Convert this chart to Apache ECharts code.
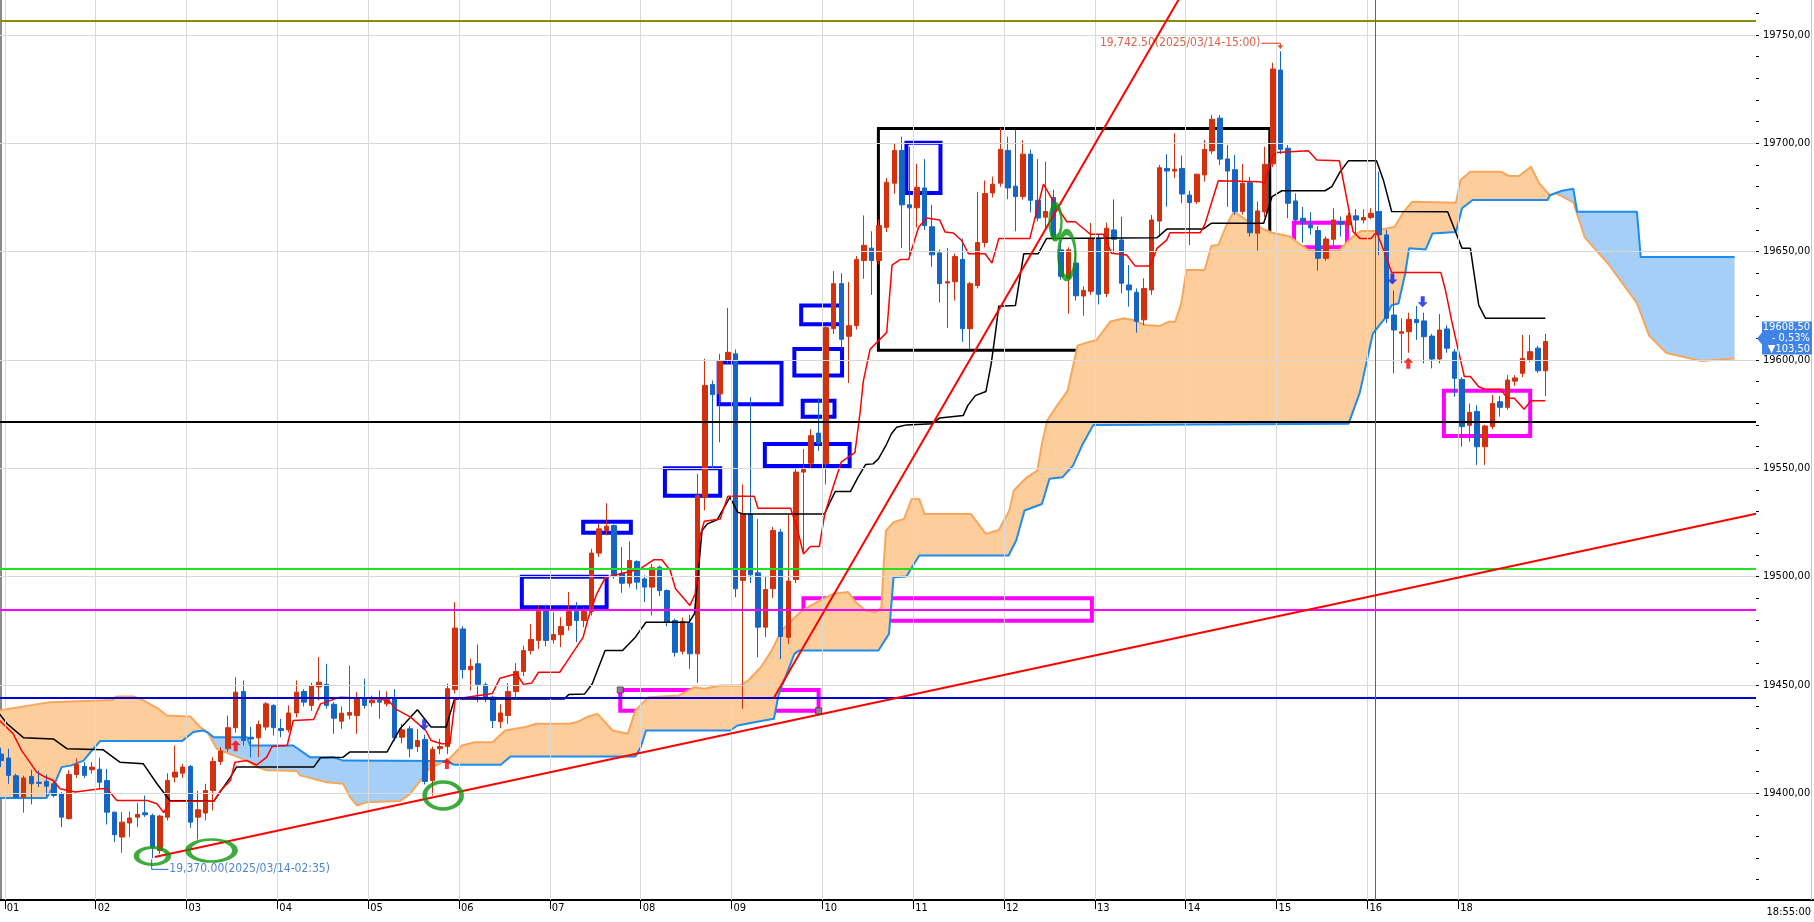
<!DOCTYPE html>
<html><head><meta charset="utf-8">
<script src="https://cdn.jsdelivr.net/npm/echarts@6/dist/echarts.min.js"></script>
<style>html,body{margin:0;padding:0;background:#fff;overflow:hidden}#c{width:1814px;height:922px}</style>
</head><body><div id="c"></div>
<script>
// ---------- DATA ----------
// 5-minute bars, index 0 = 00:55 ... 192 = 16:55, 193 = 18:00 ... 204 = 18:55
const hourLabels = ['01','02','03','04','05','06','07','08','09','10','11','12','13','14','15','16','18'];
const hourStartBars = [1,13,25,37,49,61,73,85,97,109,121,133,145,157,169,181,193];
const priceLabels = [19400,19450,19500,19550,19600,19650,19700,19750];
const priceMinorTicks = [19360,19370,19380,19390,19400,19410,19420,19430,19440,19450,19460,19470,19480,19490,19500,19510,19520,19530,19540,19550,19560,19570,19580,19590,19600,19610,19620,19630,19640,19650,19660,19670,19680,19690,19700,19710,19720,19730,19740,19750,19760];
// [open, high, low, close]
const ohlc = [
[19418,19421,19412,19415],[19416.2,19420.5,19404.3,19408.2],[19408,19409,19397.5,19398],[19398,19408,19391,19407],
[19407.7,19410.8,19394.8,19404.3],[19405,19410.5,19402.8,19404.5],[19405.4,19408.6,19398.2,19403.2],[19404.3,19406,19398,19398.9],
[19399.7,19400.5,19384.3,19388.9],[19388.2,19410.5,19387.8,19408.6],[19408.6,19416,19407,19413.2],[19412.3,19414.3,19407,19408.2],
[19410.8,19414.3,19409,19412],[19411,19416.3,19402,19405],[19405.8,19411.2,19385.5,19391.2],[19391.2,19391.5,19377.4,19380.8],
[19379.7,19391.2,19372.5,19386.6],[19386.2,19391.5,19379.7,19388.5],[19388.9,19395.4,19384.3,19390.2],[19390.9,19398.9,19389,19390],
[19389.7,19390.5,19370,19375],[19373.5,19390,19372,19389.4],[19388.9,19409.2,19387.4,19405.8],[19407.4,19422,19405,19409.7],
[19409.2,19413.5,19407,19412],[19412.3,19413,19384,19386.6],[19388.9,19401,19378.6,19392.3],[19390.8,19404.3,19387.4,19401.2],
[19401.2,19416.6,19392,19414.6],[19414.6,19421.2,19413,19419.4],[19420.5,19435.8,19419,19430.2],[19430.2,19453.5,19428,19446.6],
[19446.9,19452,19422,19424.3],[19425.8,19430.5,19416.6,19425],[19425.5,19433.5,19416.6,19431.7],[19430.5,19442,19429,19441.2],
[19440.5,19441,19426.6,19430.2],[19429.8,19434.3,19425.8,19428.9],[19429.2,19440.5,19428,19437],[19437,19452,19435,19446.6],
[19446.9,19448,19440,19442],[19440.5,19451,19438,19449.5],[19449,19462.8,19442.8,19451.2],[19450.2,19459.7,19439,19440.5],
[19441,19442,19427.4,19434.6],[19433.2,19440,19429.7,19436.9],[19436,19458.9,19434,19437.2],[19435.8,19446.6,19427.4,19444],
[19444,19452.8,19439,19440.5],[19441.7,19445,19440,19442.8],[19442.8,19447.4,19434.3,19442],[19441.2,19447,19440,19443.2],
[19443.5,19448,19424,19425.5],[19425.8,19432,19423,19429.2],[19429.7,19431,19416.6,19420.5],[19421.5,19429.7,19419,19424.3],
[19424.8,19427,19404,19405.4],[19405.8,19421.5,19398.9,19420.2],[19420.5,19425,19418,19421.5],[19421.5,19450.5,19418,19448.2],
[19447.8,19488.2,19446,19476.2],[19475.8,19477,19452.8,19457],[19456.9,19462,19447.4,19458.5],[19459.7,19468.6,19442,19450.2],
[19450,19451,19442,19444.3],[19444.3,19445,19430,19433.5],[19433,19441,19430,19437],[19435.8,19450.8,19432,19446.9],
[19446.9,19460,19444,19456.2],[19456.2,19468,19454,19465.8],[19465.8,19478,19464,19470.9],[19470.5,19486.6,19466.6,19484],
[19484.3,19487,19467.7,19470.5],[19470.8,19483.5,19469,19473.2],[19473.1,19481.2,19467.4,19476.9],[19477.4,19492.8,19475,19483.8],
[19483.8,19488.2,19469.7,19479.7],[19479.7,19485.8,19476.6,19483.8],[19483.8,19512.8,19482,19510.8],[19510.8,19524.6,19509,19522],
[19521.2,19533.8,19519,19523.2],[19523.5,19524,19499,19500.2],[19501.5,19513.5,19492.5,19496.9],[19496.9,19516.3,19495,19507.4],
[19506.9,19507.5,19494,19497.4],[19498.9,19500.5,19488.2,19495.1],[19495.1,19505.8,19482,19504],[19504.3,19505,19491,19493.5],
[19493.5,19494,19477,19478.9],[19479.7,19480.5,19463,19465],[19465.5,19481,19464,19479.2],[19478.5,19482.3,19457.4,19464.3],
[19464.3,19547.4,19450.8,19537.4],[19536.6,19600.5,19530.5,19588.2],[19588.6,19590.5,19550,19584],[19584.3,19602.8,19562,19599.7],
[19599.7,19624,19598,19603.5],[19602.8,19604.8,19490.5,19494.3],[19498.2,19542.5,19438.9,19529],[19529,19582.8,19497,19500.8],
[19501.7,19526.6,19462.8,19476.6],[19476.6,19500,19472,19494],[19494.4,19522.9,19490,19521.2],[19520.5,19522,19461.9,19472.3],
[19471.9,19528.6,19468.8,19497.9],[19498.6,19550,19497,19548.2],[19548.2,19558.9,19510.4,19549.4],[19552.3,19568,19550,19565],
[19566.2,19582.3,19558,19561.5],[19552,19616,19542.5,19614.9],[19614.4,19641,19612,19635.2],[19635.2,19640,19605,19609.5],
[19610.9,19636,19589.3,19615.8],[19615.8,19648,19614,19646.4],[19645.9,19666.7,19637.4,19652.9],[19651.6,19659.4,19630,19645.9],
[19645.9,19665,19644,19662],[19661.2,19684,19659,19682],[19681.6,19700,19676.8,19696.7],[19696.7,19703.1,19651.6,19671.6],
[19671.6,19698.4,19648.2,19670.2],[19670.2,19690.6,19661.2,19679.7],[19679.4,19692.7,19660,19662],[19661.5,19671.6,19643,19648.5],
[19649.4,19651,19626.5,19635.2],[19635.5,19651.6,19614.7,19636.1],[19636.1,19649,19627.4,19647.7],[19646.4,19656,19608.3,19614.4],
[19614.4,19636,19604.9,19635.2],[19634.3,19677.6,19633,19654.2],[19654.2,19682.8,19652,19676.8],[19677.1,19684.6,19675,19681.1],
[19681.6,19707.1,19680,19697.2],[19696.7,19703.1,19674.2,19679.4],[19680.2,19706.2,19659.4,19675.4],[19675.4,19701.4,19674,19695],
[19695,19697,19668.1,19673.7],[19673.7,19692.7,19664,19665.5],[19665.9,19691.5,19660.3,19668.5],[19675,19678.5,19655,19656.8],
[19650.8,19655.1,19637,19638.6],[19637.8,19652,19621.3,19650.8],[19644.7,19649.9,19627.4,19629.6],[19629.5,19634,19620.4,19632.1],
[19631.7,19663.3,19630,19656],[19656,19658,19625.6,19630.3],[19630.7,19663.4,19629,19660.8],[19660,19674.1,19649.2,19655.7],
[19655.4,19666.1,19630.7,19635.4],[19634.6,19643.8,19624.6,19632.3],[19631.2,19633,19612.6,19617.8],[19618.5,19637.7,19616,19633],
[19632.3,19666.9,19630,19664.6],[19664.1,19690,19656.9,19688.7],[19688.4,19695,19670.7,19687.2],[19687.2,19704.6,19684,19688],
[19688.4,19694.4,19672.3,19676.6],[19676.1,19678,19653,19672.6],[19673,19686,19672,19685.7],[19685.4,19701.5,19682.3,19697.2],
[19696.5,19713.1,19695,19711.1],[19711.6,19713,19690,19692.7],[19692.8,19699.2,19670.7,19687.2],[19687.8,19694.6,19667,19668.5],
[19668.5,19690.5,19667,19681.5],[19681.8,19684.5,19657,19658.7],[19658.5,19673.1,19650.4,19668.8],[19668.3,19698.4,19666,19690.3],
[19690.5,19737.2,19689,19734.3],[19733.8,19742.5,19695,19697.2],[19697.7,19699.2,19665.4,19672.3],[19673.4,19676.9,19662,19664.6],
[19665.4,19670.7,19654.1,19663.8],[19662.3,19668.2,19657.8,19661],[19659.7,19661.7,19641.2,19646.9],[19646.9,19657,19645.8,19655.8],
[19655.7,19670,19652.3,19664.6],[19663.8,19666.2,19657,19662.7],[19662.3,19668,19660,19666.5],[19666.5,19669.6,19658.5,19664.6],
[19664.6,19669.6,19663,19665.8],[19665.8,19670,19665,19667.7],[19668.5,19686.9,19648.4,19657.7],[19657.7,19660,19617,19619.2],
[19620.7,19632,19593.8,19613.8],[19612.3,19619.2,19598.4,19613],[19613,19621.8,19603.3,19618.7],[19618.7,19624.9,19609.2,19617.2],
[19618,19621.8,19598.4,19610.7],[19611,19612,19596.1,19600.4],[19600.4,19621.2,19598.4,19613.8],[19614.3,19616,19603.3,19605.4],
[19603.7,19605,19583,19591.5],[19591,19592,19560,19569.2],[19569.8,19579.9,19562.2,19575.8],[19576.2,19579.1,19551.5,19559.9],
[19559.9,19570,19551.5,19569.5],[19569.2,19583.8,19568,19579.9],[19580.7,19583.3,19573.8,19578.1],[19578.1,19593,19577,19590.7],
[19590.2,19593,19588,19591.7],[19593.8,19611.5,19592,19600.7],[19600.2,19611.5,19599,19603.8],[19605.4,19606.5,19594,19595],
[19595,19612,19583.3,19608.5]
];
// Ichimoku lines: [bar index, price] vertices
const tenkan = [[-0.2,19433.5],[1.6,19427.4],[2.7,19419.7],[3.8,19414.3],[4.7,19409.7],[5.6,19407.8],[6.9,19405.8],[7.8,19402],[9.8,19400.5],[13.1,19402],[14,19402],[15.3,19396.6],[19.3,19396.6],[20.6,19395.1],[21.5,19391],[22.3,19396.2],[28.1,19396.2],[29,19401.2],[30.3,19405.8],[30.9,19414.3],[32.5,19415],[33.8,19413],[35.1,19416.6],[35.8,19421.5],[37.8,19422],[38.6,19433.5],[41.3,19434],[42.2,19441.2],[44.8,19444.3],[50.1,19443.5],[51.4,19442],[52.1,19438.9],[54.1,19435.1],[56.1,19428.9],[56.8,19424.3],[58.2,19422.8],[59.3,19422.8],[60,19443.5],[64.9,19446],[65.9,19453],[68.1,19455.1],[69,19450.2],[70.1,19450.8],[71,19455.8],[73.8,19455.8],[74.7,19460.5],[76.9,19472],[77.6,19481.2],[78.7,19492],[79.8,19499.4],[80.9,19500.5],[84.4,19503.5],[86.2,19507.7],[87.3,19507.7],[88.4,19502.8],[89.1,19494.3],[90.6,19488.2],[91,19486.6],[91.7,19492],[92.3,19518.2],[92.9,19525.5],[95,19526.5],[96,19537],[99.5,19537],[100,19531.5],[104.3,19531.5],[105.2,19521.9],[106,19510.4],[106.9,19513.9],[108.1,19513.9],[108.8,19528.6],[109.7,19539],[111,19552.9],[112.8,19557.2],[113.5,19576.3],[113.9,19590.1],[114.8,19604.9],[117,19612.7],[117.7,19643.8],[118.8,19646.4],[119.9,19646.4],[121.2,19661.2],[122.3,19665.5],[124,19664.6],[124.7,19659.1],[125.8,19658.6],[126.9,19655.1],[127.8,19649],[130,19649],[130.9,19644.7],[131.8,19656],[135.9,19656],[137.7,19681.1],[139,19673.3],[140.8,19663.8],[141.9,19663.8],[143.9,19658],[145.6,19658],[146.7,19649.2],[148.7,19648.4],[149.8,19643.4],[151.8,19643.4],[152.7,19651.5],[154,19655.4],[154.4,19658.7],[158.4,19658.7],[159,19662.3],[160.8,19682.7],[166.3,19682.3],[166.9,19681.5],[167.9,19693.8],[168.5,19695.7],[172.7,19696.6],[173.8,19692.3],[176.8,19692],[178.6,19659.2],[179.5,19656.1],[181,19656.1],[181.7,19659.2],[182.8,19649.2],[183.7,19640.3],[190.2,19640.3],[190.8,19632.3],[191.7,19616.9],[192.6,19603],[193.3,19592.3],[194.1,19592.3],[195.2,19587.6],[196.1,19586.4],[198.1,19586.4],[199,19582.3],[199.9,19582.3],[201.2,19577.2],[202.1,19581.2],[204,19581.2]];
const kijun = [[-0.2,19436.6],[0.8,19432],[3,19425.5],[6.9,19425],[8.7,19420.5],[13.5,19420],[15.7,19414.3],[18.8,19413.5],[20.6,19404.3],[22.3,19396.6],[28.1,19396.2],[30.3,19407.4],[31.1,19412],[41.3,19412],[42.2,19416.3],[45.2,19416.6],[46.1,19419],[51,19419],[52.7,19429.7],[55,19438.5],[56.8,19430.5],[58.8,19430.5],[59.9,19443.5],[74.4,19443.5],[75,19445.5],[77.1,19445.8],[78.1,19450.5],[79.8,19465.8],[82.1,19465.8],[83.8,19472],[85.2,19478.9],[90.9,19478.9],[91.6,19482.8],[92.6,19521.2],[93.3,19524.3],[94.6,19526.2],[95.3,19530.5],[96.3,19536.6],[97.3,19529.7],[98,19528.9],[108.8,19528.9],[109.5,19534.3],[110.2,19539.2],[112.2,19539.2],[113.2,19545.8],[114.2,19551.7],[115.2,19552],[115.9,19554.3],[116.9,19560.5],[117.6,19565.8],[118.3,19568.9],[119.6,19570],[123,19570.5],[124,19573.2],[127.1,19574.3],[127.7,19578.9],[128.7,19583.5],[130.1,19585.4],[130.8,19598.2],[131.4,19613.5],[131.8,19624.8],[134,19625.1],[135.1,19649],[137,19649],[138.1,19656],[152.7,19656.4],[154,19660.4],[158.8,19660.4],[159.9,19663.1],[166.8,19663.1],[167.9,19675.4],[169.2,19678.1],[174.9,19678.1],[175.8,19680],[176.9,19686.9],[178,19692],[181.7,19692],[182.6,19683.1],[183.7,19668.5],[191.1,19668.4],[193,19651.5],[194.1,19651.5],[195.2,19625.3],[196.1,19619.2],[204,19619.2]];
const spanA = [[-0.2,19397.7],[6,19397.7],[6.9,19402.8],[8,19412],[9.3,19412.8],[10.9,19415],[12.2,19420.5],[13.1,19424],[23.9,19424],[25.4,19428.2],[26.7,19428.9],[27.3,19428],[28.1,19425.8],[32.5,19425.8],[32.9,19422],[38.6,19422],[40.8,19416.6],[43.9,19416.6],[45.2,19415],[58.6,19414.8],[59.9,19413.1],[66,19413.1],[67.3,19416.9],[83.8,19416.9],[84.5,19421.2],[85.2,19428.9],[96.3,19428.9],[97.3,19431.2],[99.7,19432.8],[102.1,19434.3],[102.7,19445.1],[104.8,19464.3],[105.4,19465.8],[115.9,19465.8],[117.3,19473.5],[117.9,19499.7],[119.6,19500],[120.6,19505.8],[121.3,19509.7],[133.1,19509.7],[134.1,19516.6],[135.2,19530.5],[137.5,19533.5],[138.5,19545.1],[140.2,19545.8],[141.6,19551.2],[142.9,19561.2],[144.3,19570],[178,19570.5],[179.5,19585],[180.3,19597.6],[181.2,19612],[182.8,19619.2],[183.7,19625.3],[184.6,19626],[185.5,19640],[186,19651.5],[188.2,19651],[189.1,19658.4],[192.2,19659],[193,19670],[194.4,19673.8],[204.3,19673.8],[204.6,19676],[206.2,19678.1],[207.7,19679],[208.2,19668.4],[216.1,19668.4],[216.6,19647.5],[229,19647.5]];
const spanB = [[-0.2,19438.2],[6.5,19442],[14.8,19443],[15.2,19444.6],[17.5,19444.6],[18.8,19442.8],[20.6,19439.4],[21.9,19435.8],[25,19435.4],[26.3,19430.5],[27.3,19428],[28.5,19420.5],[30.7,19417.4],[32.5,19415],[33.8,19412],[35.1,19410.5],[39.1,19410.2],[39.5,19408.2],[43,19405],[45.2,19404.3],[46.1,19398.2],[47,19394.3],[48.3,19395.8],[52.7,19396.3],[54,19399.5],[55.4,19405.8],[56.5,19411],[57.8,19413.5],[58.6,19414.8],[59.2,19415.8],[60.9,19422],[62.6,19423.5],[64.9,19423.5],[66.6,19428.9],[69.3,19430.5],[70.7,19432],[75.1,19432],[76.1,19432.8],[77.4,19435.1],[78.8,19436.6],[80.8,19428.9],[82.8,19427.4],[83.8,19438.2],[85.5,19444.3],[89.6,19445.1],[91.6,19448.9],[92.9,19448.2],[95,19449.7],[97.7,19449.7],[98.7,19452],[100.4,19458.2],[101.8,19465.8],[103.1,19475.1],[105.8,19484.3],[107.8,19488.2],[109.9,19492],[111.9,19492.8],[112.9,19488.2],[114.2,19484.3],[115.6,19483.5],[116.3,19485.8],[116.6,19505.8],[116.9,19521.2],[117.9,19525.1],[119.3,19526.6],[120.3,19535.8],[121.3,19535.8],[122,19528.9],[128.1,19528.9],[130.1,19519.7],[131.8,19521.5],[133.2,19530.5],[133.8,19539.7],[135.5,19545.8],[136.9,19548.9],[137.5,19561.2],[138.2,19572],[139.5,19578.9],[140.9,19585.8],[142.2,19606.6],[143.6,19608.2],[144.7,19609.2],[146.5,19617.6],[148.3,19619.2],[149.6,19618.4],[151.1,19616.1],[153.1,19615.7],[154.2,19617.6],[155.1,19617.6],[155.9,19626.1],[156.6,19641.5],[159,19641.5],[159.9,19652.7],[160.8,19653],[161.9,19662.3],[162.8,19668.1],[163.2,19667.7],[164.5,19664.6],[166.8,19660.3],[167.9,19658.7],[169.4,19657.7],[170.3,19656.9],[171.4,19653.8],[172.9,19650.4],[176.7,19650.4],[178.2,19655.7],[179.1,19658.4],[179.7,19659.5],[181.3,19659.5],[183,19660.7],[184.1,19661.5],[185.3,19668.4],[186.4,19673],[192.2,19672.6],[192.8,19683.1],[194.1,19686.9],[198.1,19686.9],[199.2,19684.9],[200.5,19684.9],[202.1,19689.2],[203.2,19681.5],[204.6,19676],[205.4,19677],[207.7,19672.7],[209.2,19656.6],[212.3,19644.4],[216.1,19626.2],[217.7,19611.3],[220,19603.2],[224.6,19599.5],[229,19600.6]];
// cloud segments between span crossings: [from, to, span on top]
const cloudRegions = [[-0.2,27.3,'B'],[27.3,58.6,'A'],[58.6,204.6,'B'],[204.6,229,'A']];
// drawn objects
const hLineValues = [19756.6, 19571.3, 19503.5, 19484.7, 19443.8];
const sessionLineBar = 181.5;
const trendLines = [[[20.3,19370.5],[231.83,19529]], [[102.1,19444],[156,19769]]];
const blueRects = [[68.8,80.0,19485.8,19499.9],[76.9,83.2,19520.2,19525.3],[87.7,95.0,19537.3,19550.0],[94.8,103.1,19579.5,19598.8],[104.8,111.1,19592.8,19605.0],[105.7,111.1,19616.5,19625.1],[105.9,110.1,19573.8,19581.2],[100.9,112.1,19551.0,19561.2],[119.6,124.1,19677.1,19700.2]];
const blackRects = [[115.9,167.6,19604.5,19706.8]];
const magentaRects = [[81.8,108.0,19438.0,19447.6],[106.0,144.1,19479.6,19490.0],[170.8,177.8,19652.0,19663.3],[190.6,202.0,19564.9,19585.8]];
const ellipses = [[20,19371],[27.8,19373.5],[58.4,19398.9],[139.3,19663.8],[140.8,19648.4]];
const upArrows = [[31,19421.9],[58.9,19413.7],[185.9,19598.5]];
const downArrows = [[55.9,19431.6],[183.8,19637.3],[187.8,19626.9]];
const highNote = {bar:169, price:19742.5, text:'19,742.50(2025/03/14-15:00)'};
const lowNote = {bar:20, price:19370, text:'19,370.00(2025/03/14-02:35)'};
const priceBoxTexts = ['19608,50','- 0,53%','\u25BC103,50'];
const clockText = '18:55:00';

// ---------- CHART ----------
const FONT = "'DejaVu Sans Condensed','DejaVu Sans',sans-serif";
const X_MIN = -0.136, X_MAX = 231.83, Y_MIN = 19350.65, Y_MAX = 19766.16;
const UP = '#d3300e', DOWN = '#1565c6';
const hourTicks = hourStartBars.map(b => b - 0.5);
const fmtPrice = v => v.toFixed(2).replace('.', ',');
const hourLabelFor = v => { let bi = 0, bd = 1e9; hourTicks.forEach((t,i)=>{const d=Math.abs(t-v); if(d<bd){bd=d;bi=i;}}); return bd < 0.3 ? hourLabels[bi] : ''; };

const chart = echarts.init(document.getElementById('c'), null, {renderer:'canvas', width:1814, height:922});

const candleData = ohlc.map((r, j) => [j, r[0], r[3], r[2], r[1]]);
const rectItem = (r, color, w) => [{coord:[r[0], r[3]], itemStyle:{color:'rgba(0,0,0,0)', borderColor:color, borderWidth:w}}, {coord:[r[1], r[2]]}];
const hColors = ['#8c8c00','#000000','#22e022','#ff00ff','#0000d8'];
const ellipseSizes = [[32,17],[47,22],[37,27],[12,33],[17,46]];
const lineS = (name, data, color, width, z) => ({type:'line', name, data, showSymbol:false, symbol:'none', silent:true, clip:true, z, lineStyle:{color, width}, animation:false});

const option = {
  animation:false, backgroundColor:'#ffffff', textStyle:{fontFamily:FONT},
  grid:{left:0, right:58, top:0, bottom:22, containLabel:false},
  xAxis:{type:'value', min:X_MIN, max:X_MAX,
    axisLine:{show:true, onZero:false, lineStyle:{color:'#000', width:2}},
    axisTick:{show:true, customValues:hourTicks, length:9, lineStyle:{color:'#000', width:1}},
    axisLabel:{show:true, customValues:hourTicks, formatter:hourLabelFor, align:'left', margin:3, color:'#000', fontSize:11, fontFamily:FONT, padding:[0,0,0,2]},
    splitLine:{show:false}},
  yAxis:[
    {type:'value', position:'right', min:Y_MIN, max:Y_MAX,
      axisLine:{show:true, lineStyle:{color:'#8a8a8a', width:2}},
      axisTick:{show:true, customValues:priceLabels, length:6, lineStyle:{color:'#000'}},
      axisLabel:{show:true, customValues:priceLabels, formatter:fmtPrice, margin:7, color:'#000', fontSize:11, fontFamily:FONT},
      splitLine:{show:false}},
    {type:'value', position:'right', min:Y_MIN, max:Y_MAX,
      axisLine:{show:false}, axisTick:{show:true, customValues:priceMinorTicks, length:3, lineStyle:{color:'#000'}},
      axisLabel:{show:false}, splitLine:{show:false}}
  ],
  series:[
    {type:'line', name:'grid', data:[[-50,19500]], symbol:'none', silent:true, z:0, lineStyle:{opacity:0},
      markLine:{silent:true, symbol:['none','none'], label:{show:false}, animation:false,
        lineStyle:{color:'#d9d9d9', width:1, type:'solid'},
        data:[...hourTicks.map(v=>({xAxis:v})), ...priceLabels.map(v=>({yAxis:v}))]}},
    {type:'custom', name:'cloud', coordinateSystem:'cartesian2d', silent:true, z:1, clip:true,
      data:cloudRegions.map(r=>[r[0], r[1]]), encode:{x:0, y:1},
      renderItem:(params, api)=>{
        const r = cloudRegions[params.dataIndex];
        const a = spanA.filter(p=>p[0]>=r[0] && p[0]<=r[1]);
        const b = spanB.filter(p=>p[0]>=r[0] && p[0]<=r[1]).reverse();
        return {type:'polygon', shape:{points:a.concat(b).map(p=>api.coord(p))},
          style:{fill: r[2]==='A' ? '#a5cff7' : '#fdcd9c'}};
      }},
    lineS('spanB', spanB, '#f7a65c', 2, 2),
    lineS('spanA', spanA, '#1c8cf0', 2, 2),
    {type:'candlestick', name:'price', data:candleData, encode:{x:0, y:[1,2,3,4]}, barWidth:5, z:3, silent:true,
      itemStyle:{color:UP, color0:DOWN, borderColor:UP, borderColor0:DOWN, borderWidth:1}},
    lineS('kijun', kijun, '#000000', 1.5, 4),
    lineS('tenkan', tenkan, '#ff0000', 1.5, 4),
    {type:'line', name:'hlines', data:[[-50,19500]], symbol:'none', silent:true, z:5, lineStyle:{opacity:0},
      markLine:{silent:true, symbol:['none','none'], label:{show:false}, animation:false,
        data:[...hLineValues.map((v,i)=>({yAxis:v, lineStyle:{color:hColors[i], width:2, type:'solid'}})),
              {xAxis:sessionLineBar, lineStyle:{color:'#ff2020', width:1, type:'solid'}}]}},
    ...trendLines.map((t,i)=>lineS('trend'+i, t, '#ff0000', 2, 5)),
    {type:'line', name:'rects', data:[[-50,19500]], symbol:'none', silent:true, z:6, lineStyle:{opacity:0},
      markArea:{silent:true, animation:false, label:{show:false},
        data:[...blueRects.map(r=>rectItem(r,'#0000ff',4)), ...blackRects.map(r=>rectItem(r,'#000000',3)), ...magentaRects.map(r=>rectItem(r,'#ff00ff',4))]}},
    {type:'scatter', name:'handles', data:[[magentaRects[0][0], magentaRects[0][3]],[magentaRects[0][1], magentaRects[0][2]]], symbol:'rect', symbolSize:6, z:7, silent:true,
      itemStyle:{color:'#8a8a8a', borderColor:'#333', borderWidth:1}},
    {type:'scatter', name:'ellipses', data:ellipses, symbol:'circle', symbolSize:(v,p)=>ellipseSizes[p.dataIndex], z:7, silent:true,
      itemStyle:{color:'rgba(0,0,0,0)', borderColor:'#0c960c', borderWidth:4}},
    {type:'scatter', name:'up', data:upArrows, symbol:'path://M5,0 L10,5 L7,5 L7,11 L3,11 L3,5 L0,5 Z', symbolSize:[10,11], z:7, silent:true, itemStyle:{color:'#ff0000'}},
    {type:'scatter', name:'down', data:downArrows, symbol:'path://M3,0 L7,0 L7,6 L10,6 L5,11 L0,6 L3,6 Z', symbolSize:[10,11], z:7, silent:true, itemStyle:{color:'#0a1ee6'}},
    lineS('highLeader', [[166.5,19746.2],[highNote.bar,19746.2],[highNote.bar,19744.6]], '#d33a1a', 1, 7),
    {type:'scatter', name:'highHead', data:[[highNote.bar,19744.3]], symbol:'triangle', symbolRotate:180, symbolSize:[6,4], z:7, silent:true, itemStyle:{color:'#d33a1a'}},
    {type:'scatter', name:'highNote', data:[[166.5,19746.2]], symbolSize:0, z:8, silent:true,
      label:{show:true, position:'left', distance:1, formatter:highNote.text, color:'#d33a1a', fontSize:12, fontFamily:FONT}},
    lineS('lowLeader', [[19.9,19369.5],[19.9,19364.8],[22.1,19364.8]], '#1f66c8', 1, 7),
    {type:'scatter', name:'lowNote', data:[[22.1,19364.8]], symbolSize:0, z:8, silent:true,
      label:{show:true, position:'right', distance:1, formatter:lowNote.text, color:'#1f66c8', fontSize:12, fontFamily:FONT}}
  ]
};
chart.setOption(option);

// current price box on the right axis, placed through the axis scale
const lastClose = ohlc[ohlc.length-1][3];
const py = chart.convertToPixel({yAxisIndex:0}, lastClose);
chart.setOption({graphic:[
  {type:'line', shape:{x1:1756, y1:900, x2:1814, y2:900}, style:{stroke:'#000', lineWidth:2}, silent:true},
  {type:'line', shape:{x1:1811.5, y1:0, x2:1811.5, y2:900}, style:{stroke:'#c8c8c8', lineWidth:1}, silent:true},
  {type:'polygon', shape:{points:[[1757,py-3],[1762,py-9],[1762,py-20],[1812,py-20],[1812,py+13],[1762,py+13],[1762,py+3]]}, style:{fill:'#3f84e6'}, silent:true, z:10},
  {type:'text', x:1810, y:py-14, style:{text:priceBoxTexts[0], fill:'#fff', font:"11px "+FONT, textAlign:'right', textVerticalAlign:'middle'}, silent:true, z:11},
  {type:'text', x:1810, y:py-3, style:{text:priceBoxTexts[1], fill:'#fff', font:"11px "+FONT, textAlign:'right', textVerticalAlign:'middle'}, silent:true, z:11},
  {type:'text', x:1810, y:py+8, style:{text:priceBoxTexts[2], fill:'#fff', font:"11px "+FONT, textAlign:'right', textVerticalAlign:'middle'}, silent:true, z:11},
  {type:'text', x:1811, y:912, style:{text:clockText, fill:'#000', font:"11px "+FONT, textAlign:'right', textVerticalAlign:'middle'}, silent:true, z:11}
]});
</script>
</body></html>
